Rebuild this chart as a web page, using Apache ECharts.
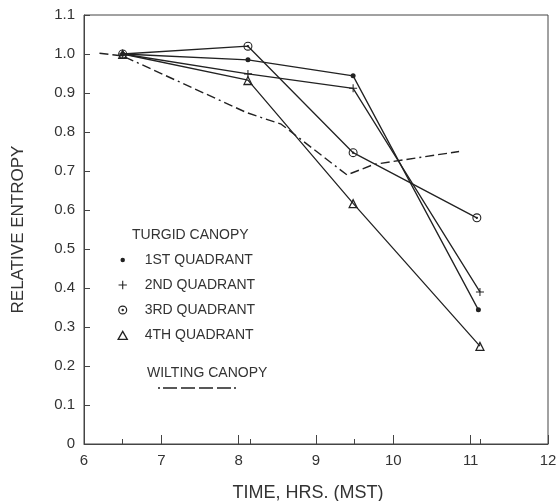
<!DOCTYPE html>
<html>
<head>
<meta charset="utf-8">
<script src="https://cdn.jsdelivr.net/npm/echarts@6/dist/echarts.min.js"></script>
<style>
html,body{margin:0;padding:0;background:#fff;}
#chart{width:557px;height:501px;}
</style>
</head>
<body>
<div id="chart"></div>
<script>
// ---- data ----
var q1 = [[6.5, 1.0], [8.12, 0.985], [9.48, 0.944], [11.1, 0.344]];
var q2 = [[6.5, 1.0], [8.12, 0.949], [9.48, 0.912], [11.12, 0.39]];
var q3 = [[6.5, 1.0], [8.12, 1.02], [9.48, 0.747], [11.08, 0.58]];
var q4 = [[6.5, 1.0], [8.12, 0.933], [9.48, 0.617], [11.12, 0.251]];
var wilting = [[6.2, 1.002], [6.5, 0.995], [8.1, 0.85], [8.55, 0.82], [9.4, 0.69], [9.75, 0.717], [10.85, 0.75]];
var sampleTimes = [6.5, 8.15, 9.5, 11.13];
var seriesNames = ['1ST QUADRANT', '2ND QUADRANT', '3RD QUADRANT', '4TH QUADRANT'];
var wiltName = 'WILTING CANOPY';
var turgidTitle = 'TURGID CANOPY';
var xTitle = 'TIME, HRS. (MST)';
var yTitle = 'RELATIVE ENTROPY';

var INK = '#222';
var FONT = '"Liberation Sans", Arial, sans-serif';

var PLUS = 'path://M-0.13,-1 L0.13,-1 L0.13,-0.13 L1,-0.13 L1,0.13 L0.13,0.13 L0.13,1 L-0.13,1 L-0.13,0.13 L-1,0.13 L-1,-0.13 L-0.13,-0.13 Z';
var RING = 'path://M1,0 A1,1 0 1,1 -1,0 A1,1 0 1,1 1,0 Z M0.76,0 A0.76,0.76 0 1,0 -0.76,0 A0.76,0.76 0 1,0 0.76,0 Z M0.26,0 A0.26,0.26 0 1,1 -0.26,0 A0.26,0.26 0 1,1 0.26,0 Z';
var TRI = 'path://M0,-1 L1,0.75 L-1,0.75 Z M0,-0.5 L-0.6,0.52 L0.6,0.52 Z';
// legend icons padded so their visible size matches the reference
var L_DOT = 'path://M-1,-1 L-1,-1 Z M1,1 L1,1 Z M0.45,0 A0.45,0.45 0 1,1 -0.45,0 A0.45,0.45 0 1,1 0.45,0 Z';
var L_PLUS = 'path://M-1.2,-1.2 L-1.2,-1.2 Z M1.2,1.2 L1.2,1.2 Z M-0.13,-1 L0.13,-1 L0.13,-0.13 L1,-0.13 L1,0.13 L0.13,0.13 L0.13,1 L-0.13,1 L-0.13,0.13 L-1,0.13 L-1,-0.13 L-0.13,-0.13 Z';
var L_RING = 'path://M-1.1,-1.1 L-1.1,-1.1 Z M1.1,1.1 L1.1,1.1 Z M1,0 A1,1 0 1,1 -1,0 A1,1 0 1,1 1,0 Z M0.74,0 A0.74,0.74 0 1,0 -0.74,0 A0.74,0.74 0 1,0 0.74,0 Z M0.26,0 A0.26,0.26 0 1,1 -0.26,0 A0.26,0.26 0 1,1 0.26,0 Z';

function lineSeries(name, data, symbol, size) {
  return {
    name: name,
    type: 'line',
    data: data,
    symbol: symbol,
    symbolSize: size,
    showSymbol: true,
    animation: false,
    lineStyle: { color: INK, width: 1.3 },
    itemStyle: { color: INK },
    z: 3
  };
}

var chart = echarts.init(document.getElementById('chart'), null, { renderer: 'canvas' });
chart.setOption({
  backgroundColor: '#fff',
  animation: false,
  grid: { left: 84, right: 9, top: 15, bottom: 57, containLabel: false, outerBoundsMode: 'none',
          show: true, borderColor: '#444', borderWidth: 1, backgroundColor: 'transparent' },
  xAxis: [{
    type: 'value', min: 6, max: 12, interval: 1,
    name: xTitle, nameLocation: 'middle', nameGap: 40,
    nameTextStyle: { fontFamily: FONT, fontSize: 18, color: '#333', padding: [0, 16, 0, 0] },
    axisLine: { show: true, lineStyle: { color: '#444', width: 1 } },
    axisTick: { show: true, inside: true, length: 9, lineStyle: { color: '#444' } },
    axisLabel: { fontFamily: FONT, fontSize: 15, color: '#333', margin: 9 },
    splitLine: { show: false }
  }, {
    type: 'value', min: 6, max: 12, position: 'bottom', gridIndex: 0,
    axisLine: { show: false },
    axisLabel: { show: false },
    axisTick: { show: true, inside: true, length: 5, customValues: sampleTimes, lineStyle: { color: '#444' } },
    splitLine: { show: false }
  }],
  yAxis: {
    type: 'value', min: 0, max: 1.1, interval: 0.1,
    name: yTitle, nameLocation: 'middle', nameGap: 57, nameRotate: 90,
    nameTextStyle: { fontFamily: FONT, fontSize: 17, color: '#333' },
    axisLine: { show: true, lineStyle: { color: '#444', width: 1 } },
    axisTick: { show: true, inside: true, length: 6, lineStyle: { color: '#444' } },
    axisLabel: {
      fontFamily: FONT, fontSize: 15, color: '#333', margin: 9,
      formatter: function (v) { return Math.abs(v) < 1e-9 ? '0' : v.toFixed(1); }
    },
    splitLine: { show: false }
  },
  legend: {
    orient: 'vertical', left: 117, top: 253, padding: 0,
    itemWidth: 36, itemHeight: 10, itemGap: 11,
    symbolKeepAspect: true,
    textStyle: { fontFamily: FONT, fontSize: 14, color: '#333', lineHeight: 14, padding: [0, 0, 0, -1] },
    selectedMode: false,
    data: [
      { name: seriesNames[0], icon: L_DOT },
      { name: seriesNames[1], icon: L_PLUS },
      { name: seriesNames[2], icon: L_RING },
      { name: seriesNames[3], icon: TRI }
    ]
  },
  graphic: [
    { type: 'text', left: 132, top: 228, silent: true,
      style: { text: turgidTitle, font: '14px ' + FONT, fill: '#333' } },
    { type: 'text', left: 147, top: 366, silent: true,
      style: { text: wiltName, font: '14px ' + FONT, fill: '#333' } },
    { type: 'line', silent: true,
      shape: { x1: 158, y1: 388, x2: 242, y2: 388 },
      style: { stroke: INK, lineWidth: 1.6, lineDash: [2, 3, 14, 4, 14, 4, 14, 4, 14, 3, 2, 100] } }
  ],
  series: [
    lineSeries(seriesNames[0], q1, 'circle', 5),
    lineSeries(seriesNames[1], q2, PLUS, 8),
    lineSeries(seriesNames[2], q3, RING, 9),
    lineSeries(seriesNames[3], q4, TRI, 10),
    {
      name: wiltName, type: 'line', data: wilting, symbol: 'none', showSymbol: false,
      animation: false, z: 2,
      lineStyle: { color: INK, width: 1.4, type: [9, 4, 9, 4, 9, 4, 2, 4] },
      itemStyle: { color: INK }
    }
  ]
});
</script>
</body>
</html>
